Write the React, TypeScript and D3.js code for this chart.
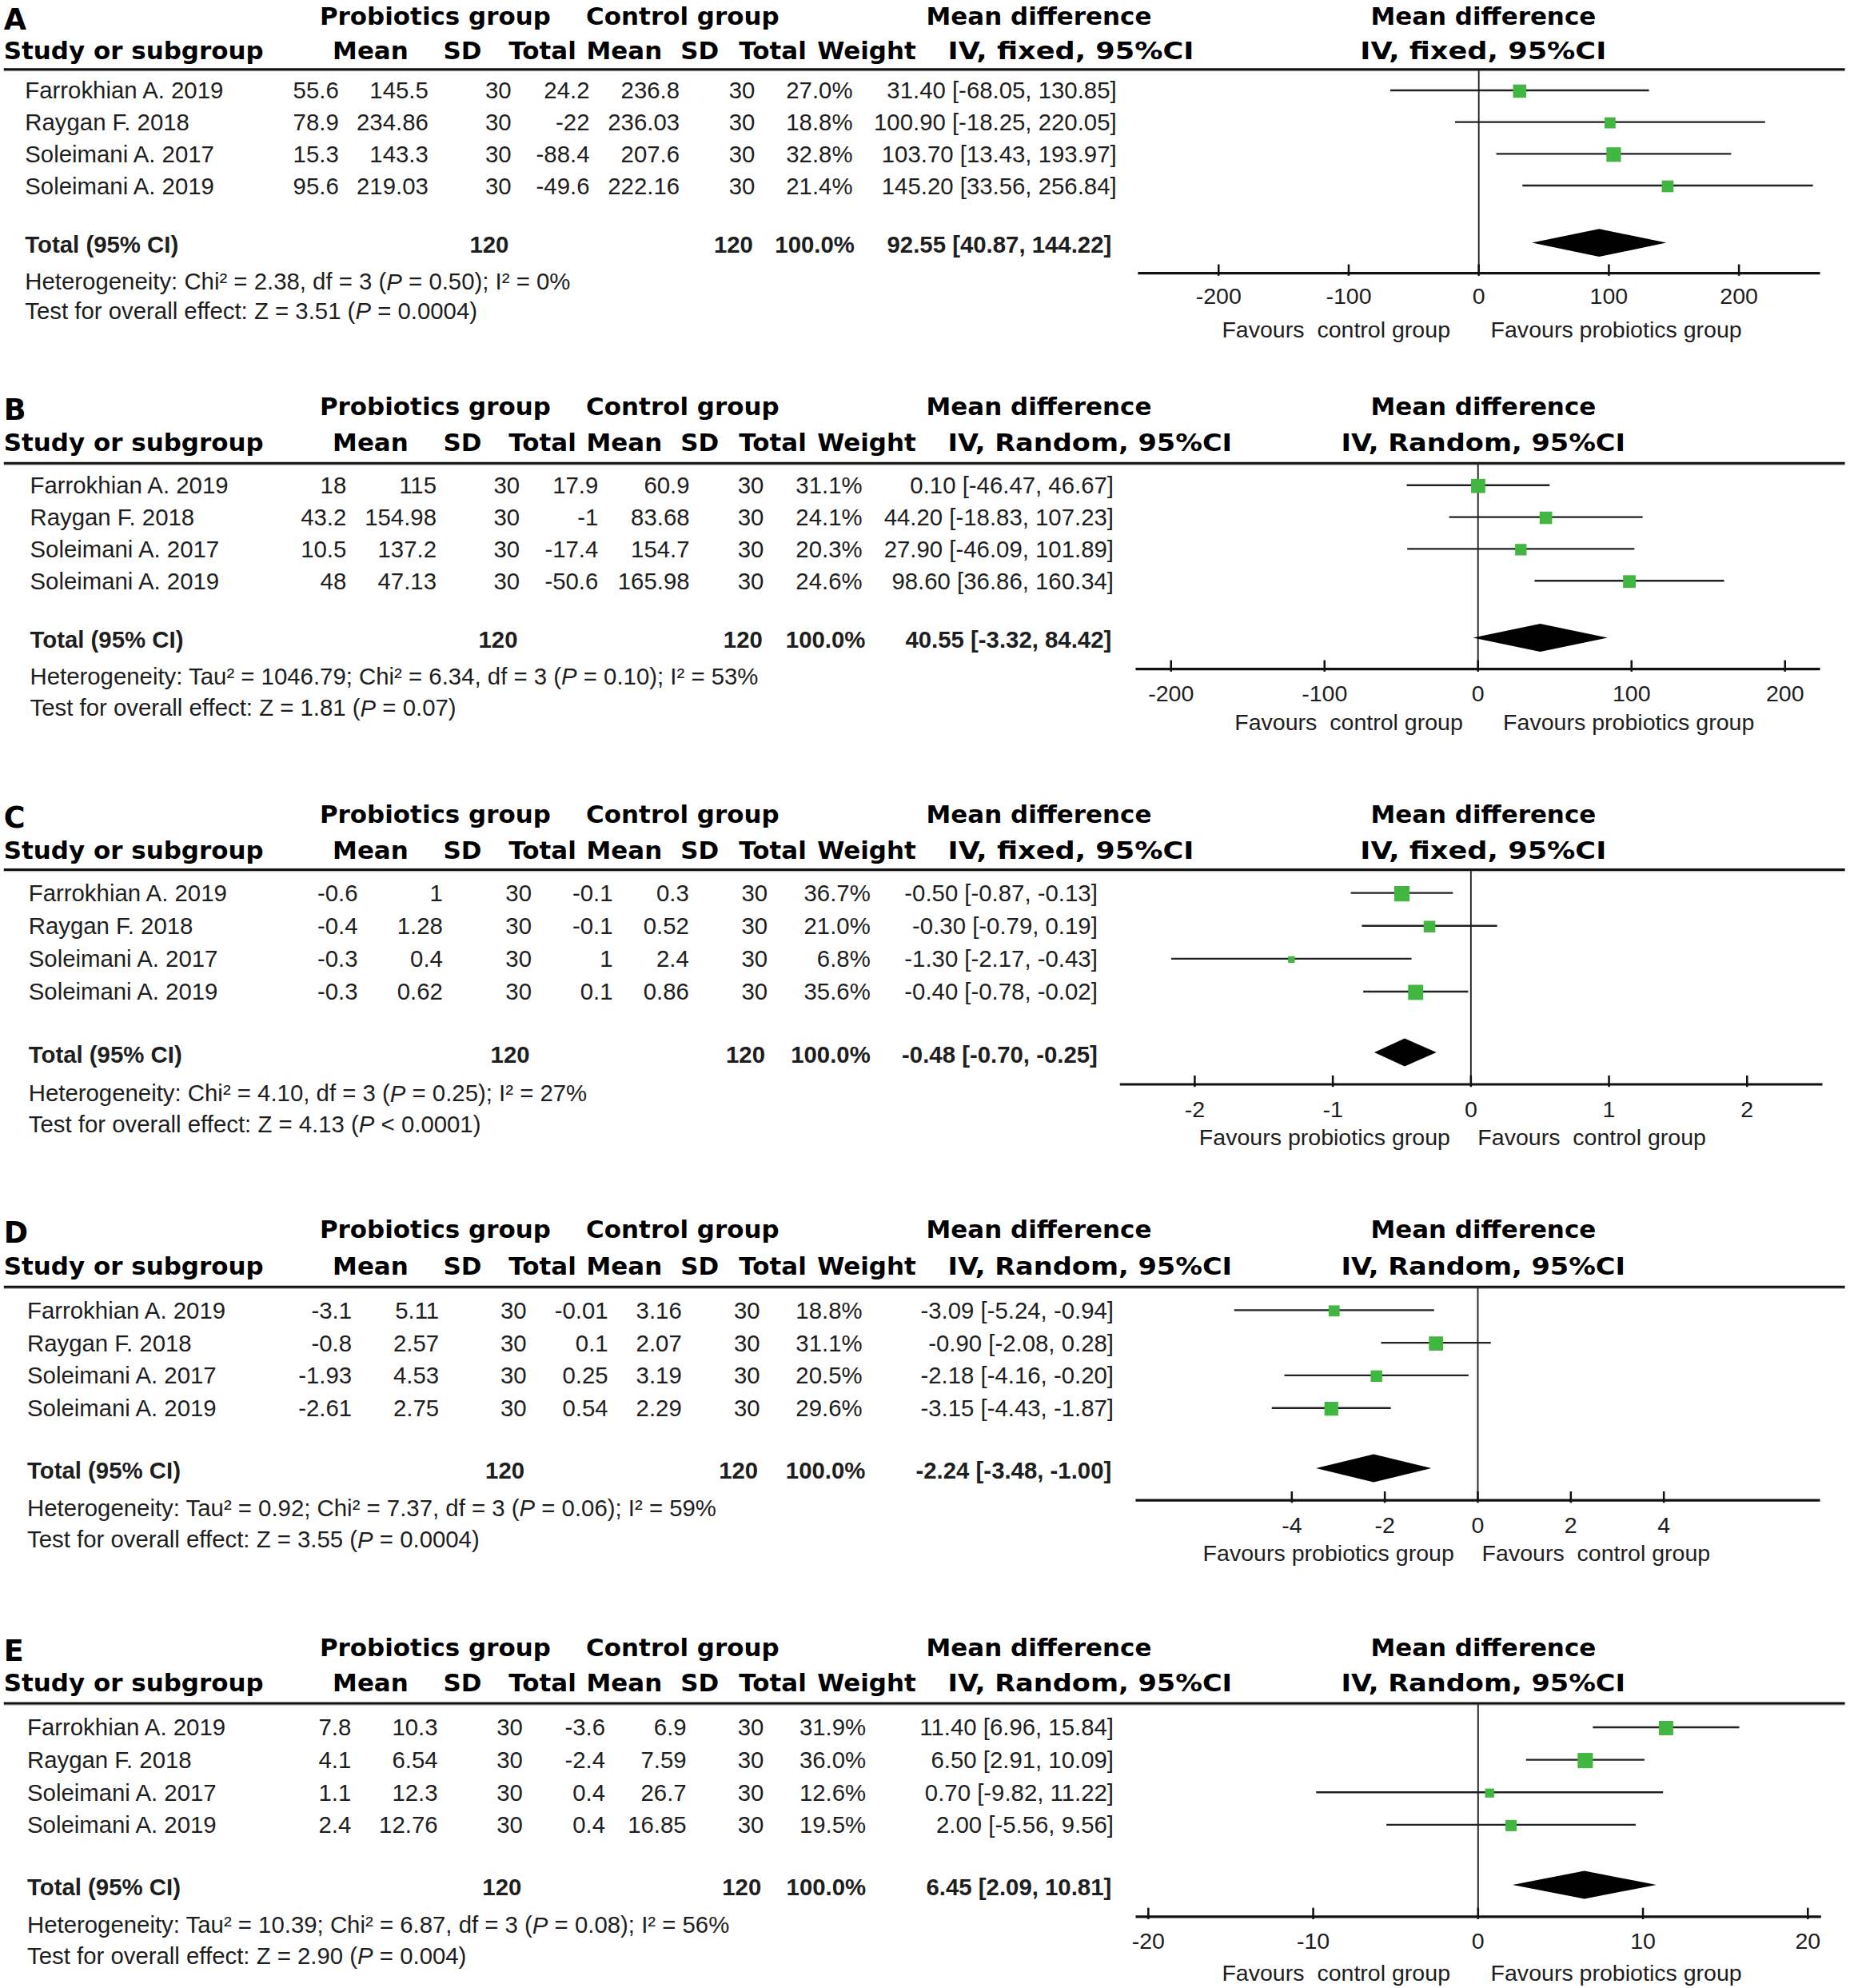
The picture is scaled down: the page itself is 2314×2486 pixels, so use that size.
import React from 'react'
import * as d3 from 'd3'

// shared study names
const studies = ['Farrokhian A. 2019', 'Raygan F. 2018', 'Soleimani A. 2017', 'Soleimani A. 2019']
const groupN = [30, 30, 30, 30]
const totalN = 120

// A
const aProbMean = [55.6, 78.9, 15.3, 95.6]
const aProbSD = [145.5, 234.86, 143.3, 219.03]
const aCtrlMean = [24.2, -22, -88.4, -49.6]
const aCtrlSD = [236.8, 236.03, 207.6, 222.16]
const aWeight = [27.0, 18.8, 32.8, 21.4]
const aMD = [31.4, 100.9, 103.7, 145.2]
const aLo = [-68.05, -18.25, 13.43, 33.56]
const aHi = [130.85, 220.05, 193.97, 256.84]
const aPooled = [92.55, 40.87, 144.22]
const aTicks = [-200, -100, 0, 100, 200]

// B
const bProbMean = [18, 43.2, 10.5, 48]
const bProbSD = [115, 154.98, 137.2, 47.13]
const bCtrlMean = [17.9, -1, -17.4, -50.6]
const bCtrlSD = [60.9, 83.68, 154.7, 165.98]
const bWeight = [31.1, 24.1, 20.3, 24.6]
const bMD = [0.1, 44.2, 27.9, 98.6]
const bLo = [-46.47, -18.83, -46.09, 36.86]
const bHi = [46.67, 107.23, 101.89, 160.34]
const bPooled = [40.55, -3.32, 84.42]
const bTicks = [-200, -100, 0, 100, 200]

// C
const cProbMean = [-0.6, -0.4, -0.3, -0.3]
const cProbSD = [1, 1.28, 0.4, 0.62]
const cCtrlMean = [-0.1, -0.1, 1, 0.1]
const cCtrlSD = [0.3, 0.52, 2.4, 0.86]
const cWeight = [36.7, 21.0, 6.8, 35.6]
const cMD = [-0.5, -0.3, -1.3, -0.4]
const cLo = [-0.87, -0.79, -2.17, -0.78]
const cHi = [-0.13, 0.19, -0.43, -0.02]
const cPooled = [-0.48, -0.7, -0.25]
const cTicks = [-2, -1, 0, 1, 2]

// D
const dProbMean = [-3.1, -0.8, -1.93, -2.61]
const dProbSD = [5.11, 2.57, 4.53, 2.75]
const dCtrlMean = [-0.01, 0.1, 0.25, 0.54]
const dCtrlSD = [3.16, 2.07, 3.19, 2.29]
const dWeight = [18.8, 31.1, 20.5, 29.6]
const dMD = [-3.09, -0.9, -2.18, -3.15]
const dLo = [-5.24, -2.08, -4.16, -4.43]
const dHi = [-0.94, 0.28, -0.2, -1.87]
const dPooled = [-2.24, -3.48, -1.0]
const dTicks = [-4, -2, 0, 2, 4]

// E
const eProbMean = [7.8, 4.1, 1.1, 2.4]
const eProbSD = [10.3, 6.54, 12.3, 12.76]
const eCtrlMean = [-3.6, -2.4, 0.4, 0.4]
const eCtrlSD = [6.9, 7.59, 26.7, 16.85]
const eWeight = [31.9, 36.0, 12.6, 19.5]
const eMD = [11.4, 6.5, 0.7, 2.0]
const eLo = [6.96, 2.91, -9.82, -5.56]
const eHi = [15.84, 10.09, 11.22, 9.56]
const ePooled = [6.45, 2.09, 10.81]
const eTicks = [-20, -10, 0, 10, 20]

const letters = ['A', 'B', 'C', 'D', 'E']
const models = ['fixed', 'Random', 'fixed', 'Random', 'Random']
const hetTexts = [
  'Heterogeneity: Chi² = 2.38, df = 3 (|P| = 0.50); I² = 0%',
  'Heterogeneity: Tau² = 1046.79; Chi² = 6.34, df = 3 (|P| = 0.10); I² = 53%',
  'Heterogeneity: Chi² = 4.10, df = 3 (|P| = 0.25); I² = 27%',
  'Heterogeneity: Tau² = 0.92; Chi² = 7.37, df = 3 (|P| = 0.06); I² = 59%',
  'Heterogeneity: Tau² = 10.39; Chi² = 6.87, df = 3 (|P| = 0.08); I² = 56%',
]
const effectTexts = [
  'Test for overall effect: Z = 3.51 (|P| = 0.0004)',
  'Test for overall effect: Z = 1.81 (|P| = 0.07)',
  'Test for overall effect: Z = 4.13 (|P| < 0.0001)',
  'Test for overall effect: Z = 3.55 (|P| = 0.0004)',
  'Test for overall effect: Z = 2.90 (|P| = 0.004)',
]
const favCtrl = 'Favours  control group'
const favProb = 'Favours probiotics group'
const favLeft = [favCtrl, favCtrl, favProb, favProb, favCtrl]
const favRight = [favProb, favProb, favCtrl, favCtrl, favProb]

const panels = [
  { probMean: aProbMean, probSD: aProbSD, ctrlMean: aCtrlMean, ctrlSD: aCtrlSD, weight: aWeight, md: aMD, lo: aLo, hi: aHi, pooled: aPooled, ticks: aTicks },
  { probMean: bProbMean, probSD: bProbSD, ctrlMean: bCtrlMean, ctrlSD: bCtrlSD, weight: bWeight, md: bMD, lo: bLo, hi: bHi, pooled: bPooled, ticks: bTicks },
  { probMean: cProbMean, probSD: cProbSD, ctrlMean: cCtrlMean, ctrlSD: cCtrlSD, weight: cWeight, md: cMD, lo: cLo, hi: cHi, pooled: cPooled, ticks: cTicks },
  { probMean: dProbMean, probSD: dProbSD, ctrlMean: dCtrlMean, ctrlSD: dCtrlSD, weight: dWeight, md: dMD, lo: dLo, hi: dHi, pooled: dPooled, ticks: dTicks },
  { probMean: eProbMean, probSD: eProbSD, ctrlMean: eCtrlMean, ctrlSD: eCtrlSD, weight: eWeight, md: eMD, lo: eLo, hi: eHi, pooled: ePooled, ticks: eTicks },
]

// layout, in the 1458-wide view units
const layouts = [
  { h1: 12.6, h2: 40, line: 54.6, row0: 71.2, step: 25, total: 192.8, het: 221.8, test: 244.5, axisY: 215.3, axisX: [896.8, 1434.4], range: [960.4, 1370.5], tickY: 233.1, favY: 259.4, favX: [1053, 1273.8],
    cols: { name: 19.7, pm: 267, psd: 337.6, pn: 403, cm: 464.7, csd: 535.6, cn: 595, w: 672, ci: 880 }, tot: { pn: 401, cn: 593.5, w: 673.5, ci: 876 } },
  { h1: 320.3, h2: 348.5, line: 365, row0: 382.3, step: 25.1, total: 504, het: 532.5, test: 557.6, axisY: 527.2, axisX: [895, 1434.4], range: [922.9, 1406.8], tickY: 546.1, favY: 569.2, favX: [1063, 1283.6],
    cols: { name: 23.6, pm: 273, psd: 344, pn: 409.6, cm: 471.5, csd: 543.5, cn: 602, w: 679.6, ci: 877.7 }, tot: { pn: 408, cn: 601, w: 682, ci: 876 } },
  { h1: 641.7, h2: 670, line: 685.2, row0: 703.6, step: 25.9, total: 830.7, het: 861.2, test: 885.3, axisY: 854.4, axisX: [882.6, 1436.3], range: [941.6, 1376.9], tickY: 873.8, favY: 895.8, favX: [1044, 1254.6],
    cols: { name: 22.5, pm: 282, psd: 349, pn: 419, cm: 483, csd: 543, cn: 605, w: 686, ci: 865 }, tot: { pn: 417.5, cn: 603, w: 686, ci: 865 } },
  { h1: 968.3, h2: 997.7, line: 1014, row0: 1032.3, step: 25.7, total: 1158.3, het: 1187.8, test: 1212.9, axisY: 1182.1, axisX: [895, 1434.4], range: [1018.1, 1311.3], tickY: 1201.4, favY: 1223.5, favX: [1047, 1257.9],
    cols: { name: 21.4, pm: 277.3, psd: 346, pn: 415, cm: 479.3, csd: 537.3, cn: 599, w: 679.6, ci: 877.7 }, tot: { pn: 413.4, cn: 597.4, w: 682, ci: 876 } },
  { h1: 1298, h2: 1325.8, line: 1342.1, row0: 1361, step: 25.6, total: 1486.6, het: 1516.5, test: 1540.6, axisY: 1510.2, axisX: [895, 1435.2], range: [905, 1424.8], tickY: 1529, favY: 1554.3, favX: [1053, 1273.8],
    cols: { name: 21.4, pm: 276.8, psd: 345, pn: 412, cm: 477, csd: 541, cn: 602, w: 682.5, ci: 877.7 }, tot: { pn: 411, cn: 600, w: 682.5, ci: 876 } },
]

const HEAD = "'DejaVu Sans', Verdana, sans-serif"
const BODY = "'Liberation Sans', Arial, sans-serif"
const GREEN = '#41b641'
const INK = '#1e1e1e'
const FS = 18.5
const AXIS_FS = 18

function ciLabel(md: number, lo: number, hi: number) {
  return `${md.toFixed(2)} [${lo.toFixed(2)}, ${hi.toFixed(2)}]`
}

function WithItalicP({ text, x, y }: { text: string; x: number; y: number }) {
  const [before, p, after] = text.split('|')
  return (
    <text x={x} y={y} fontFamily={BODY} fontSize={FS} fill={INK} dominantBaseline="central" style={{ whiteSpace: 'pre' }}>
      {before}
      <tspan fontStyle="italic">{p}</tspan>
      {after}
    </text>
  )
}

function Panel({ i }: { i: number }) {
  const p = panels[i]
  const L = layouts[i]
  const t = p.ticks
  const x = d3.scaleLinear().domain([t[0], t[t.length - 1]]).range(L.range)
  const rowY = (k: number) => L.row0 + k * L.step
  const num = (v: number) => String(v)
  const cell = (v: string, cx: number, y: number, bold = false) => (
    <text x={cx} y={y} textAnchor="end" fontFamily={BODY} fontSize={FS} fontWeight={bold ? 'bold' : 'normal'} fill={INK} dominantBaseline="central">{v}</text>
  )
  const head = (v: string, cx: number, y: number, anchor = 'middle', len?: number) => (
    <text x={cx} y={y} textAnchor={anchor} fontFamily={HEAD} fontSize={19.5} fontWeight="bold" fill="#000" dominantBaseline="central"
      textLength={len} lengthAdjust={len ? 'spacingAndGlyphs' : undefined}>{v}</text>
  )
  const ivLen = models[i] === 'fixed' ? 194 : 224
  const x0 = x(0)
  const [pm, plo, phi] = p.pooled
  const dh = 11
  const dy = L.total - 1.5
  const diamond = `M${x(plo)},${dy} L${x(pm)},${dy - dh} L${x(phi)},${dy} L${x(pm)},${dy + dh} Z`

  return (
    <g>
      <text x={3} y={L.h1 + 10.7} fontFamily={HEAD} fontSize={23} fontWeight="bold" fill="#000">{letters[i]}</text>
      {head('Probiotics group', 343, L.h1)}
      {head('Control group', 538, L.h1)}
      {head('Mean difference', 730, L.h1, 'start')}
      {head('Mean difference', 1169, L.h1)}
      {head('Study or subgroup', 3, L.h2, 'start')}
      {head('Mean', 292, L.h2)}
      {head('SD', 364.5, L.h2)}
      {head('Total', 427.5, L.h2)}
      {head('Mean', 492, L.h2)}
      {head('SD', 551.5, L.h2)}
      {head('Total', 609, L.h2)}
      {head('Weight', 683, L.h2)}
      {head(`IV, ${models[i]}, 95%CI`, 747, L.h2, 'start', ivLen)}
      {head(`IV, ${models[i]}, 95%CI`, 1169 - ivLen / 2, L.h2, 'start', ivLen)}

      <line x1={3} x2={1454} y1={L.line + 1.2} y2={L.line + 1.2} stroke="#bbb" strokeWidth={1} />
      <line x1={3} x2={1454} y1={L.line} y2={L.line} stroke="#111" strokeWidth={1.9} />

      {studies.map((s, k) => (
        <g key={s}>
          <text x={L.cols.name} y={rowY(k)} fontFamily={BODY} fontSize={FS} fill={INK} dominantBaseline="central">{s}</text>
          {cell(num(p.probMean[k]), L.cols.pm, rowY(k))}
          {cell(num(p.probSD[k]), L.cols.psd, rowY(k))}
          {cell(num(groupN[k]), L.cols.pn, rowY(k))}
          {cell(num(p.ctrlMean[k]), L.cols.cm, rowY(k))}
          {cell(num(p.ctrlSD[k]), L.cols.csd, rowY(k))}
          {cell(num(groupN[k]), L.cols.cn, rowY(k))}
          {cell(`${p.weight[k].toFixed(1)}%`, L.cols.w, rowY(k))}
          {cell(ciLabel(p.md[k], p.lo[k], p.hi[k]), L.cols.ci, rowY(k))}
        </g>
      ))}

      <text x={L.cols.name} y={L.total} fontFamily={BODY} fontSize={FS} fontWeight="bold" fill={INK} dominantBaseline="central">Total (95% CI)</text>
      {cell(String(totalN), L.tot.pn, L.total, true)}
      {cell(String(totalN), L.tot.cn, L.total, true)}
      {cell('100.0%', L.tot.w, L.total, true)}
      {cell(ciLabel(pm, plo, phi), L.tot.ci, L.total, true)}
      <WithItalicP text={hetTexts[i]} x={L.cols.name} y={L.het} />
      <WithItalicP text={effectTexts[i]} x={L.cols.name} y={L.test} />

      {/* forest plot */}
      <line x1={x0} x2={x0} y1={L.line} y2={L.axisY} stroke="#222" strokeWidth={1.2} />
      {studies.map((s, k) => {
        const side = 2.0 * Math.sqrt(p.weight[k])
        return (
          <g key={s}>
            <line x1={x(p.lo[k])} x2={x(p.hi[k])} y1={rowY(k)} y2={rowY(k)} stroke="#222" strokeWidth={1.5} />
            <rect x={x(p.md[k]) - side / 2} y={rowY(k) + 0.6 - side / 2} width={side} height={side} fill={GREEN} />
          </g>
        )
      })}
      <path d={diamond} fill="#000" />

      <line x1={L.axisX[0]} x2={L.axisX[1]} y1={L.axisY} y2={L.axisY} stroke="#111" strokeWidth={2} />
      {t.map(v => (
        <g key={v}>
          <line x1={x(v)} x2={x(v)} y1={L.axisY - 7} y2={L.axisY + 2} stroke="#111" strokeWidth={1.6} />
          <text x={x(v)} y={L.tickY} textAnchor="middle" fontFamily={BODY} fontSize={AXIS_FS} fill={INK} dominantBaseline="central">{v}</text>
        </g>
      ))}
      <text x={L.favX[0]} y={L.favY} textAnchor="middle" fontFamily={BODY} fontSize={AXIS_FS} fill={INK} dominantBaseline="central" style={{ whiteSpace: 'pre' }}>{favLeft[i]}</text>
      <text x={L.favX[1]} y={L.favY} textAnchor="middle" fontFamily={BODY} fontSize={AXIS_FS} fill={INK} dominantBaseline="central" style={{ whiteSpace: 'pre' }}>{favRight[i]}</text>
    </g>
  )
}

export default function App() {
  return (
    <svg width={2314} height={2486} viewBox="0 0 1458 1566.4" style={{ position: 'absolute', left: 0, top: 0, background: '#fff' }}>
      <rect x={0} y={0} width={1458} height={1566.4} fill="#fff" />
      {panels.map((_, i) => <Panel key={i} i={i} />)}
    </svg>
  )
}
